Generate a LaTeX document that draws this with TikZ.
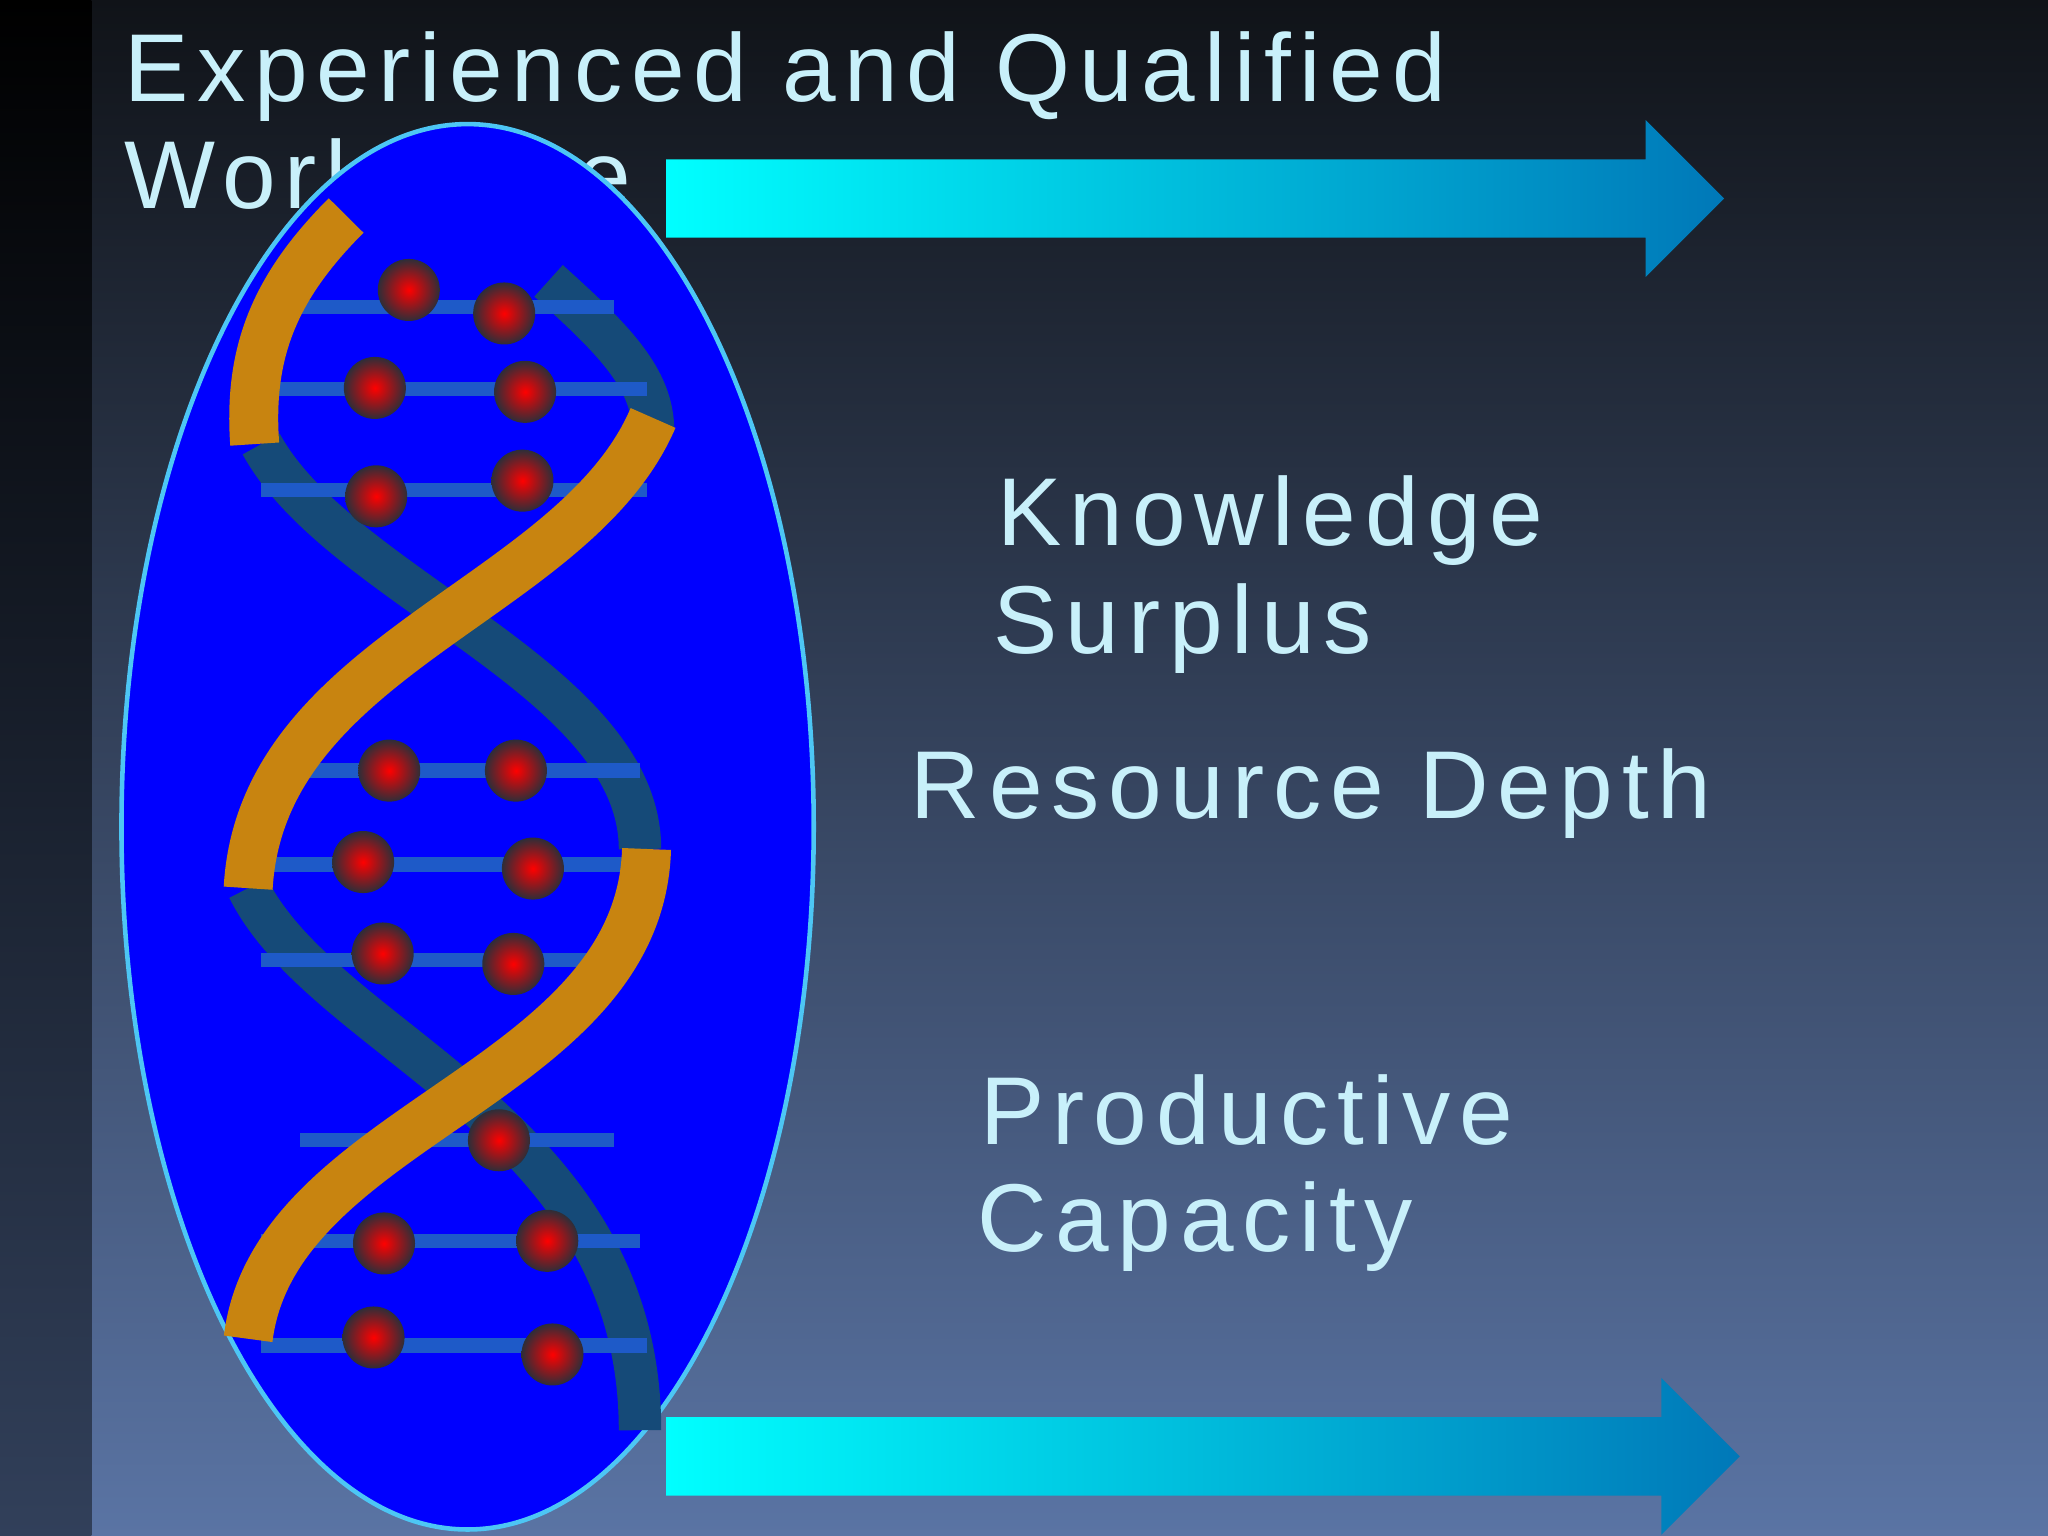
\documentclass[tikz,border=0pt]{standalone}
\usepackage{fontspec}
\setmainfont{Liberation Sans}
\begin{document}
\begin{tikzpicture}[x=0.02cm,y=-0.02cm,
  lbl/.style={anchor=base west,inner sep=0pt,text=txtc,font=\fontsize{42}{50}\selectfont\addfontfeature{LetterSpace=9}},
  orib/.style={line width=0.75cm,draw=oranger,line cap=butt},
  drib/.style={line width=0.65cm,draw=darkstrand},
  rung/.style={line width=0.22cm,draw=rungc},
  dot/.style={circle,minimum size=0.95cm,inner sep=0pt,inner color=red,outer color=olive!60!black!60!blue}]
\definecolor{txtc}{HTML}{C8F0FA}
\definecolor{bgtop}{HTML}{101318}
\definecolor{bgbot}{HTML}{5A74A4}
\definecolor{darkstrand}{HTML}{154A78}
\definecolor{rungc}{HTML}{1E5AC8}
\definecolor{oranger}{HTML}{C88410}
\definecolor{arrL}{HTML}{00FFFF}
\definecolor{arrR}{HTML}{0078B8}
\useasboundingbox (0,0) rectangle (1568,1176);
\shade[top color=bgtop,bottom color=bgbot] (0,0) rectangle (1568,1176);
\shade[top color=black,bottom color=bgbot!55!black] (0,0) rectangle (70,1176);
\node[lbl] (t1) at (95,78) {Experienced and Qualified};
\node[lbl] (t2) at (95,160) {Workforce};
\draw[draw=cyan!70!white,line width=0.07cm,fill=blue] (358,633) ellipse [x radius=265,y radius=538];
\node (ell) at (358,633) {};
% dark strand
\draw[drib] (420,215) .. controls (470,260) and (500,290) .. (500,330);
\draw[drib] (200,340) .. controls (260,450) and (490,520) .. (490,650);
\draw[drib] (190,680) .. controls (250,800) and (490,860) .. (490,1095);
% rungs
\foreach \y/\a/\b in {235/230/470,298/200/495,375/200/495,590/200/490,662/190/490,735/200/470,873/230/470,950/200/490,1030/200/495}
  \draw[rung] (\a,\y) -- (\b,\y);
% orange strand
\draw[orib] (265,165) .. controls (210,220) and (190,270) .. (195,340);
\draw[orib] (500,320) .. controls (440,460) and (200,500) .. (190,680);
\draw[orib] (495,650) .. controls (490,830) and (210,860) .. (190,1025);
% dots
\foreach \x/\y [count=\i] in {313/222,386/240,287/297,402/300,288/380,400/368,298/590,395/590,278/660,408/665,293/730,393/738,382/873,294/952,419/950,286/1024,423/1037}
  \node[dot] (d\i) at (\x,\y) {};
% arrows
\shade[left color=arrL,right color=arrR] (510,122) -- (1260,122) -- (1260,92) -- (1320,152) -- (1260,212) -- (1260,182) -- (510,182) -- cycle;
\shade[left color=arrL,right color=arrR] (510,1085) -- (1272,1085) -- (1272,1055) -- (1332,1115) -- (1272,1175) -- (1272,1145) -- (510,1145) -- cycle;
\node[lbl] (k1) at (763,418) {Knowledge};
\node[lbl] (k2) at (760,500) {Surplus};
\node[lbl] (r1) at (697,627) {Resource Depth};
\node[lbl] (p1) at (750,876) {Productive};
\node[lbl] (p2) at (748,958) {Capacity};
\end{tikzpicture}
\end{document}
